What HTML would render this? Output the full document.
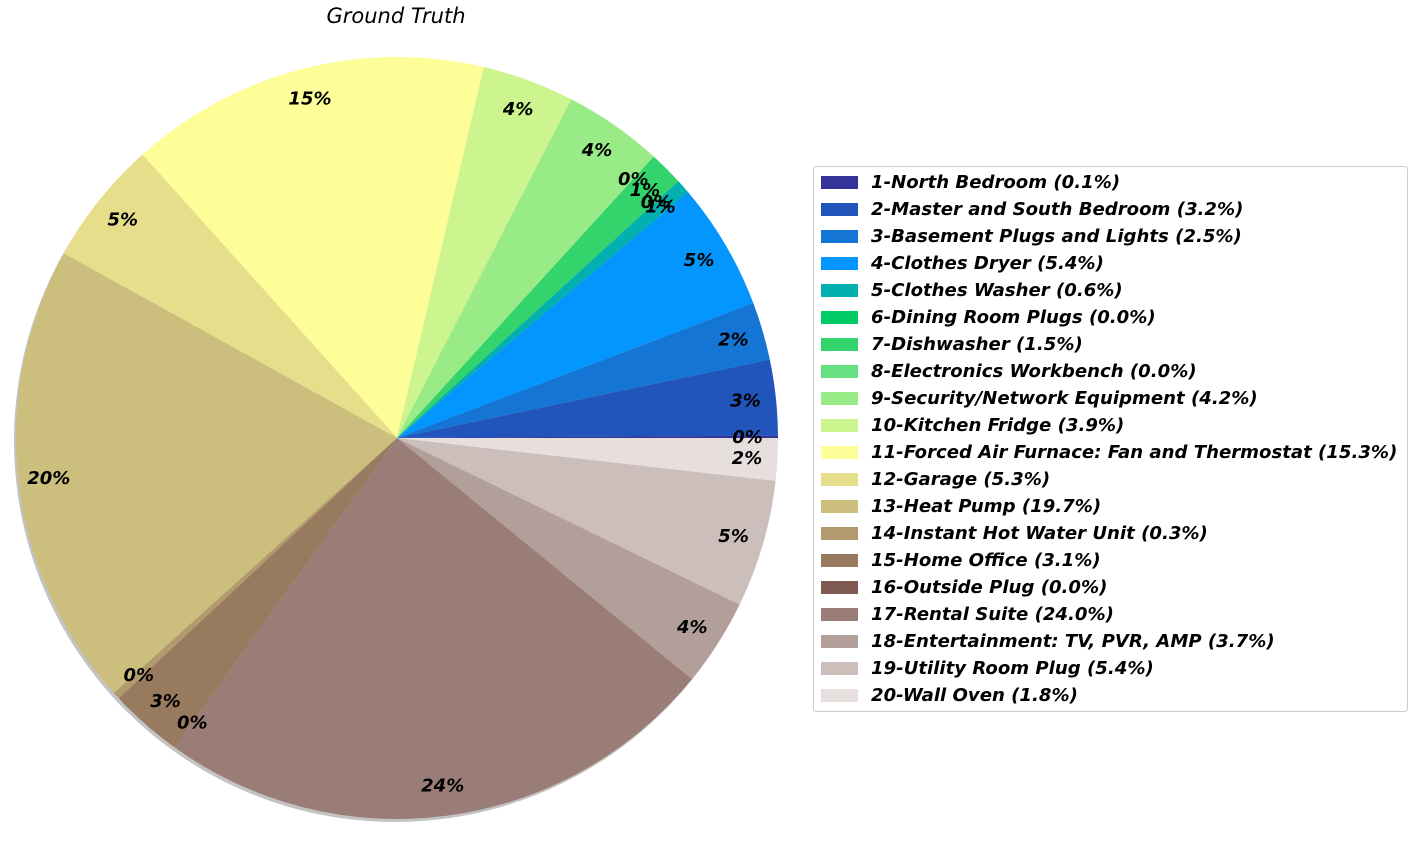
<!DOCTYPE html>
<html><head><meta charset="utf-8"><style>
body{margin:0;background:#fff;}
svg text{font-family:"DejaVu Sans","Liberation Sans",sans-serif;}
</style></head><body>
<svg id="chart" width="1414" height="838" xmlns="http://www.w3.org/2000/svg">
<text x="396" y="23" text-anchor="middle" font-size="21" font-style="italic">Ground Truth</text>
<g id="shadow"></g>
<g id="slices"></g>
<g id="labels"></g>
<g id="legend">
<rect x="813.5" y="166.5" width="594" height="545" rx="3" fill="#fff" stroke="#ccc" stroke-width="1"/>
</g>
</svg>
<script>
const categories = ["1-North Bedroom","2-Master and South Bedroom","3-Basement Plugs and Lights","4-Clothes Dryer","5-Clothes Washer","6-Dining Room Plugs","7-Dishwasher","8-Electronics Workbench","9-Security/Network Equipment","10-Kitchen Fridge","11-Forced Air Furnace: Fan and Thermostat","12-Garage","13-Heat Pump","14-Instant Hot Water Unit","15-Home Office","16-Outside Plug","17-Rental Suite","18-Entertainment: TV, PVR, AMP","19-Utility Room Plug","20-Wall Oven"];
const values = [0.1,3.2,2.46,5.4,0.6,0.0,1.46,0.0,4.2,3.9,15.3,5.3,19.7,0.3,3.1,0.0,24.0,3.7,5.4,1.8];
const colors = ["#333399","#2255bb","#1475d5","#0496ff","#02b0b0","#00cc66","#33d46c","#66e080","#99eb88","#ccf590","#fefe98","#e6de8a","#ccbe7c","#b29a6e","#987a5e","#7f5a52","#9a7d76","#b39f99","#ccbebb","#e6dfde"];
const NS="http://www.w3.org/2000/svg";
const cx=397, cy=438, r=381;
const total=values.reduce((a,b)=>a+b,0);
function pt(a,rr){return [cx+rr*Math.cos(a), cy-rr*Math.sin(a)];}
function mk(tag,attrs){const e=document.createElementNS(NS,tag);for(const k in attrs)e.setAttribute(k,attrs[k]);return e;}
const sh=mk("circle",{cx:cx-2,cy:cy+3,r:r,fill:"#888","fill-opacity":"0.5"});


document.getElementById("shadow").appendChild(sh);
let ang=0;
values.forEach((v,i)=>{
  const sweep=v/total*2*Math.PI;
  const a0=ang,a1=ang+sweep;
  if(sweep>0){
    const p0=pt(a0,r),p1=pt(a1,r);
    const large=sweep>Math.PI?1:0;
    const path=mk("path",{d:`M${cx},${cy} L${p0[0]},${p0[1]} A${r},${r} 0 ${large} 0 ${p1[0]},${p1[1]} Z`,fill:colors[i]});
    
    
    document.getElementById("slices").appendChild(path);
  }
  const mid=(a0+a1)/2;
  const lp=pt(mid,r*0.92);
  const t=mk("text",{x:lp[0],y:lp[1]+6,"text-anchor":"middle","font-size":"18","font-weight":"bold","font-style":"italic"});
  t.textContent=Math.round(v/total*100)+"%";
  
  
  document.getElementById("labels").appendChild(t);
  ang=a1;
});
const lg=document.getElementById("legend");
categories.forEach((c,i)=>{
  const y=182+i*27;
  const sw=mk("rect",{x:821,y:y-6,width:37,height:13,fill:colors[i]});
  
  
  lg.appendChild(sw);
  const t=mk("text",{x:871,y:y+6,"font-size":"18.1","font-weight":"bold","font-style":"italic"});
  t.textContent=c+" ("+values[i].toFixed(1)+"%)";
  
  
  lg.appendChild(t);
});
</script>
</body></html>
